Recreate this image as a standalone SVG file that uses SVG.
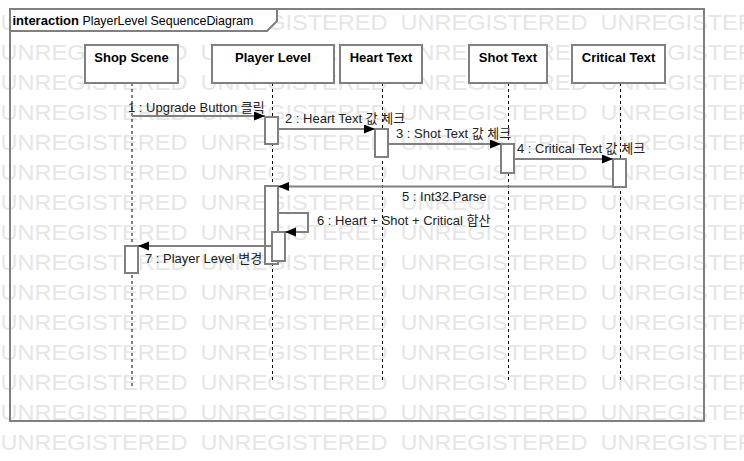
<svg xmlns="http://www.w3.org/2000/svg" xmlns:xlink="http://www.w3.org/1999/xlink" width="744" height="461" viewBox="0 0 744 461">
<style>
.wm{font-family:"Liberation Sans",Arial,sans-serif;font-size:22.5px;fill:#e6e6e6}
.frame{fill:none;stroke:#808080;stroke-width:2}
.tab{fill:#fff;stroke:#808080;stroke-width:2}
.box{fill:#fff;stroke:#808080;stroke-width:2}
.act{fill:#fff;stroke:#808080;stroke-width:2}
.life{stroke:#000;stroke-width:1;stroke-dasharray:3,3;fill:none}
.msg{stroke:#808080;stroke-width:2;fill:none;marker-end:url(#arr)}
.name{font-family:"Liberation Sans",Arial,sans-serif;font-size:13px;font-weight:bold;fill:#000;text-anchor:middle}
.lbl{font-family:"Liberation Sans","Noto Sans CJK KR",sans-serif;font-size:13px;fill:#222}
.title{font-family:"Liberation Sans",Arial,sans-serif;font-size:13px;fill:#000}
</style>
<defs>
<marker id="arr" markerUnits="userSpaceOnUse" markerWidth="12" markerHeight="10" refX="11" refY="4.5" orient="auto">
<path d="M0,0 L11,4.5 L0,9 z" fill="#000"/>
</marker>
<g id="wmrow">
<text class="wm" x="0.5" y="0" textLength="187" lengthAdjust="spacingAndGlyphs">UNREGISTERED</text>
<text class="wm" x="200.5" y="0" textLength="187" lengthAdjust="spacingAndGlyphs">UNREGISTERED</text>
<text class="wm" x="400.5" y="0" textLength="187" lengthAdjust="spacingAndGlyphs">UNREGISTERED</text>
<text class="wm" x="600.5" y="0" textLength="187" lengthAdjust="spacingAndGlyphs">UNREGISTERED</text>
</g>
</defs>
<rect width="744" height="461" fill="#fff"/>
<g id="watermark">
<use xlink:href="#wmrow" href="#wmrow" y="30"/>
<use xlink:href="#wmrow" href="#wmrow" y="60"/>
<use xlink:href="#wmrow" href="#wmrow" y="90"/>
<use xlink:href="#wmrow" href="#wmrow" y="120"/>
<use xlink:href="#wmrow" href="#wmrow" y="150"/>
<use xlink:href="#wmrow" href="#wmrow" y="180"/>
<use xlink:href="#wmrow" href="#wmrow" y="210"/>
<use xlink:href="#wmrow" href="#wmrow" y="240"/>
<use xlink:href="#wmrow" href="#wmrow" y="270"/>
<use xlink:href="#wmrow" href="#wmrow" y="300"/>
<use xlink:href="#wmrow" href="#wmrow" y="330"/>
<use xlink:href="#wmrow" href="#wmrow" y="360"/>
<use xlink:href="#wmrow" href="#wmrow" y="390"/>
<use xlink:href="#wmrow" href="#wmrow" y="420"/>
<use xlink:href="#wmrow" href="#wmrow" y="450"/>
</g>
<g id="frame">
<rect class="frame" x="10" y="9" width="694" height="412"/>
<path class="tab" d="M10,9 H277 V21 L267,31 H10 Z"/>
<text class="title" x="12.5" y="25"><tspan font-weight="bold">interaction</tspan><tspan font-size="12.4"> PlayerLevel SequenceDiagram</tspan></text>
</g>
<g id="shop-scene">
<line class="life" x1="132" y1="83" x2="132" y2="388"/>
<rect class="box" x="85" y="45" width="93" height="38"/>
<text class="name" x="131.5" y="62">Shop Scene</text>
<rect class="act" x="125" y="246" width="13" height="27"/>
</g>
<g id="player-level">
<line class="life" x1="272.5" y1="83" x2="272.5" y2="381"/>
<rect class="box" x="212" y="45" width="122" height="38"/>
<text class="name" x="273" y="62">Player Level</text>
<rect class="act" x="265" y="117" width="13" height="27"/>
<rect class="act" x="265" y="186" width="13" height="78"/>
<rect class="act" x="272" y="232" width="13" height="29"/>
</g>
<g id="heart-text">
<line class="life" x1="382.5" y1="83" x2="382.5" y2="381"/>
<rect class="box" x="340" y="45" width="82" height="38"/>
<text class="name" x="381" y="62">Heart Text</text>
<rect class="act" x="375" y="129" width="13" height="28"/>
</g>
<g id="shot-text">
<line class="life" x1="508.5" y1="83" x2="508.5" y2="381"/>
<rect class="box" x="469" y="45" width="78" height="38"/>
<text class="name" x="508" y="62">Shot Text</text>
<rect class="act" x="501" y="144" width="13" height="29"/>
</g>
<g id="critical-text">
<line class="life" x1="620.5" y1="83" x2="620.5" y2="381"/>
<rect class="box" x="572" y="45" width="93" height="38"/>
<text class="name" x="618.5" y="62">Critical Text</text>
<rect class="act" x="613" y="159" width="13" height="28"/>
</g>
<g id="connectors">
<line class="msg" x1="132" y1="116" x2="265" y2="116"/>
<text class="lbl" x="128" y="112">1 : Upgrade Button 클릭</text>
<line class="msg" x1="278" y1="129" x2="375" y2="129"/>
<text class="lbl" x="285" y="123">2 : Heart Text 값 체크</text>
<line class="msg" x1="388" y1="144" x2="501" y2="144"/>
<text class="lbl" x="396" y="138">3 : Shot Text 값 체크</text>
<line class="msg" x1="514" y1="159" x2="613" y2="159"/>
<text class="lbl" x="517" y="153">4 : Critical Text 값 체크</text>
<line class="msg" x1="613" y1="186.5" x2="278" y2="186.5"/>
<text class="lbl" x="402" y="201">5 : Int32.Parse</text>
<path class="msg" d="M278,213 H308 V232 H285"/>
<text class="lbl" x="317" y="225">6 : Heart + Shot + Critical 합산</text>
<line class="msg" x1="272" y1="246" x2="138" y2="246"/>
<text class="lbl" x="145" y="263">7 : Player Level 변경</text>
</g>
</svg>
